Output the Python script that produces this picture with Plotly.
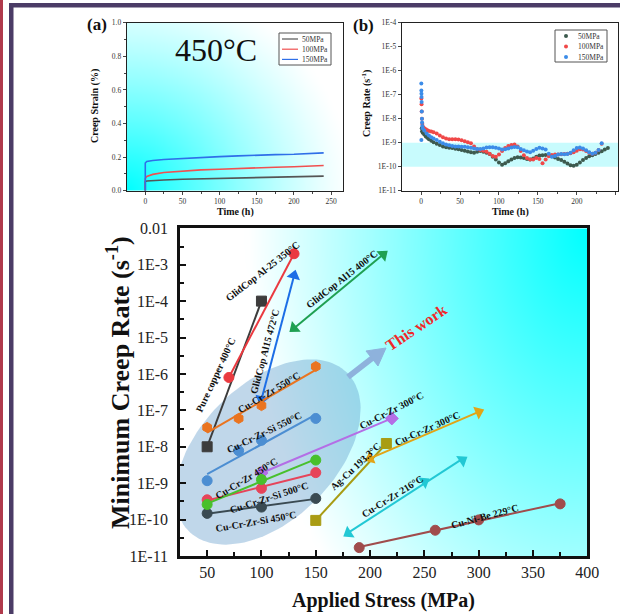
import numpy as np
import plotly.graph_objects as go

FIG_W, FIG_H = 620, 614
SERIF = "Liberation Serif, Times New Roman, serif"


def fx(p):
    return p / FIG_W


def fy(p):
    return 1 - p / FIG_H


# ---------------- (a) creep strain at 450 °C ----------------
time_a = [0, 0, 2, 10, 25, 50, 75, 100, 125, 150, 175, 200, 225, 240]
strain_50 = [0, 0.055, 0.058, 0.061, 0.064, 0.068, 0.071, 0.074, 0.077, 0.079, 0.081, 0.083, 0.085, 0.087]
strain_100 = [0, 0.072, 0.085, 0.097, 0.108, 0.118, 0.124, 0.128, 0.133, 0.137, 0.140, 0.143, 0.147, 0.150]
strain_150 = [0, 0.165, 0.174, 0.180, 0.186, 0.193, 0.198, 0.203, 0.207, 0.212, 0.215, 0.217, 0.221, 0.225]

# ---------------- (b) creep rate vs time ----------------
rate_t_50 = [0.8, 1.2, 2, 4, 6, 8, 10, 13, 16, 20, 24, 28, 32, 36, 40, 44, 48, 52, 56, 60, 64, 68, 72,
             76, 80, 84, 88, 92, 96, 100, 104, 108, 112, 116, 120, 124, 128, 132, 136, 140, 144, 148,
             152, 156, 160, 164, 168, 172, 176, 180, 184, 188, 192, 196, 200, 204, 208, 212, 216, 220,
             224, 228, 232, 236, 240]
rate_50 = [4e-9, 3e-9, 2.6e-9, 2.2e-9, 1.8e-9, 1.6e-9, 1.4e-9, 1.2e-9, 1.05e-9, 9e-10, 8e-10, 7e-10,
           6.5e-10, 6.2e-10, 6e-10, 5.6e-10, 5.3e-10, 5e-10, 4.6e-10, 4.3e-10, 4e-10, 3.8e-10, 4.2e-10,
           4.5e-10, 4.2e-10, 3.8e-10, 3.4e-10, 2.6e-10, 2e-10, 1.5e-10, 1.2e-10, 1.4e-10, 1.7e-10, 2e-10,
           2.3e-10, 2.5e-10, 2.4e-10, 2.3e-10, 2.1e-10, 2e-10, 2.2e-10, 2.6e-10, 2.9e-10, 3e-10, 3.1e-10,
           3e-10, 2.7e-10, 2.4e-10, 2.1e-10, 1.9e-10, 1.6e-10, 1.35e-10, 1.15e-10, 1.1e-10, 1.2e-10,
           1.5e-10, 1.9e-10, 2.3e-10, 2.7e-10, 3e-10, 3.4e-10, 3.8e-10, 4.4e-10, 5.2e-10, 6e-10]

rate_t_100 = [0.3, 0.5, 0.7, 1, 1.5, 2.5, 4, 6, 8, 10, 13, 16, 20, 24, 28, 32, 36, 40, 44, 48, 52, 56,
              60, 64, 68, 72, 76, 80, 84, 88, 92, 96, 100, 104, 108, 112, 116, 120, 124, 128, 132, 136,
              140, 144, 148, 152, 156, 160, 164, 168, 172, 176, 180, 184, 188, 192, 196, 200, 204, 208,
              212, 216, 220, 224, 228, 232]
rate_100 = [7e-8, 4e-8, 2e-8, 1e-8, 6e-9, 4.5e-9, 4e-9, 3.6e-9, 3.3e-9, 3.1e-9, 2.9e-9, 2.7e-9, 2.4e-9,
            2e-9, 1.7e-9, 1.5e-9, 1.4e-9, 1.4e-9, 1.4e-9, 1.35e-9, 1.25e-9, 1.15e-9, 1.05e-9, 9.5e-10,
            7e-10, 5.5e-10, 5e-10, 4.6e-10, 4.2e-10, 3.5e-10, 2.8e-10, 2.6e-10, 3.2e-10, 4.5e-10, 6e-10,
            7.2e-10, 8e-10, 8.5e-10, 7e-10, 4.5e-10, 3e-10, 2.3e-10, 2e-10, 2e-10, 2.3e-10, 2.1e-10,
            1.4e-10, 2e-10, 2.7e-10, 3.1e-10, 3.2e-10, 3.2e-10, 3.3e-10, 3.4e-10, 3.5e-10, 3.6e-10,
            4e-10, 4.6e-10, 5.3e-10, 5.2e-10, 4.5e-10, 3.8e-10, 3.5e-10, 3.8e-10, 5e-10, 9e-10]

rate_t_150 = [0.2, 0.3, 0.4, 0.5, 0.6, 0.8, 1, 1.2, 1.5, 2, 0.3, 4, 7, 10, 13, 16, 20, 24, 28, 32, 36,
              40, 44, 48, 52, 56, 60, 64, 68, 72, 76, 80, 84, 88, 92, 96, 100, 104, 108, 112, 116, 120,
              124, 128, 132, 136, 140, 144, 148, 152, 156, 160, 164, 168, 172, 176, 180, 184, 188, 192,
              196, 200, 204, 208, 212, 216, 220, 224, 228, 232]
rate_150 = [2.9e-7, 1.5e-7, 1.1e-7, 8e-8, 5e-8, 2e-8, 1e-8, 7e-9, 5e-9, 4e-9, 1.3e-9, 3.2e-9, 2.4e-9,
            2e-9, 1.7e-9, 1.5e-9, 1.3e-9, 1.1e-9, 9.5e-10, 8.5e-10, 7.8e-10, 7.3e-10, 7e-10, 7e-10,
            6.8e-10, 6.7e-10, 6.5e-10, 6.2e-10, 5.8e-10, 5.5e-10, 5.5e-10, 5.8e-10, 6.3e-10, 6.5e-10,
            6.5e-10, 6.2e-10, 5.8e-10, 5.2e-10, 5.3e-10, 5.8e-10, 6.3e-10, 6.6e-10, 6.5e-10, 5.5e-10,
            4.8e-10, 4.3e-10, 4e-10, 4.6e-10, 5.5e-10, 6.2e-10, 5.8e-10, 5.2e-10, 3.5e-10, 2.6e-10,
            2.8e-10, 3.2e-10, 3.4e-10, 3.3e-10, 3.4e-10, 3.8e-10, 4.8e-10, 6e-10, 6.3e-10, 5.8e-10,
            4.8e-10, 4e-10, 3.5e-10, 3.8e-10, 5e-10, 9.5e-10]

# ---------------- (c) minimum creep rate vs applied stress ----------------
pure_cu_stress = [50, 100]
pure_cu_rate = [1.0e-8, 1.0e-4]
glid25_stress = [70, 130]
glid25_rate = [8.0e-7, 2.0e-3]
glid15_472_stress = [100, 130]
glid15_472_rate = [2.0e-7, 5.0e-4]
glid15_400_stress = [130, 212]
glid15_400_rate = [1.8e-5, 1.9e-3]
crzr550_stress = [50, 79, 100, 150]
crzr550_rate = [3.4e-8, 6.0e-8, 1.35e-7, 1.6e-6]
crzrsi550_stress = [50, 79, 100, 150]
crzrsi550_rate = [1.17e-9, 7.8e-9, 1.5e-8, 6.0e-8]
crzr450_stress = [50, 100, 150]
crzr450_rate = [2.6e-10, 1.26e-9, 4.3e-9]
crzr300_p_stress = [100, 220]
crzr300_p_rate = [1.9e-9, 6.0e-8]
crzrsi500_stress = [50, 100, 150]
crzrsi500_rate = [3.5e-10, 7.2e-10, 1.95e-9]
crzrsi450_stress = [50, 100, 150]
crzrsi450_rate = [1.48e-10, 2.2e-10, 3.8e-10]
agcu_stress = [150, 215]
agcu_rate = [9.5e-11, 1.23e-8]
crzr300_g_stress = [200, 300]
crzr300_g_rate = [4.8e-9, 9.1e-8]
crzr216_stress = [180, 250, 285]
crzr216_rate = [4.2e-11, 1.1e-9, 4.3e-9]
cunibe_stress = [190, 260, 300, 375]
cunibe_rate = [1.7e-11, 5.1e-11, 9.8e-11, 2.7e-10]

y_tick_vals_c = [10.0 ** -k for k in range(2, 12)]
y_tick_text_c = ["0.01"] + ["1E-%d" % k for k in range(3, 12)]
y_tick_vals_b = [10.0 ** -k for k in range(4, 12)]
y_tick_text_b = ["1E-%d" % k for k in range(4, 12)]

# panel geometry (pixels)
A_L, A_R, A_T, A_B = 126.7, 343.0, 22.7, 190.7
B_L, B_R = 401.7, 618.0
C_L, C_R, C_T, C_B = 180.0, 587.3, 228.3, 556.0
C_XR = [25, 400]
C_YR = [-11, -2]

fig = go.Figure()

# ---- background gradients ----
gu = np.linspace(0, 1, 48)
gv = np.linspace(0, 1, 48)
U, V = np.meshgrid(gu, gv)
cyan_scale = [[0, "#ffffff"], [1, "#00ffff"]]

d_a = np.sqrt((U * (A_R - A_L) / 225) ** 2 + (V * (A_B - A_T) / 215) ** 2)
z_a = np.clip(1 - d_a, 0, 1) ** 1.2
fig.add_trace(go.Heatmap(x=gu, y=gv, z=z_a, colorscale=cyan_scale, zmin=0, zmax=1, showscale=False,
                         zsmooth="best", hoverinfo="skip", xaxis="x", yaxis="y"))

d_c = np.sqrt(((1 - U) * (C_R - C_L) / 340) ** 2 + ((1 - V) * (C_B - C_T) / 520) ** 2)
z_c = np.clip(1 - d_c, 0, 1)
fig.add_trace(go.Heatmap(x=gu, y=gv, z=z_c, colorscale=cyan_scale, zmin=0, zmax=1, showscale=False,
                         zsmooth="best", hoverinfo="skip", xaxis="x4", yaxis="y4"))

# translucent ellipse grouping the Cu-Cr-Zr(-Si) results
t = np.linspace(0, 2 * np.pi, 120)
ecx, ecy, ea, eb, eang = 268, 452, 112, 68, np.radians(45)
ex = ecx + ea * np.cos(t) * np.cos(eang) - eb * np.sin(t) * np.sin(eang)
ey = ecy - (ea * np.cos(t) * np.sin(eang) + eb * np.sin(t) * np.cos(eang))
fig.add_trace(go.Scatter(x=(ex - C_L) / (C_R - C_L), y=(C_B - ey) / (C_B - C_T), mode="lines",
                         fill="toself", fillcolor="rgba(90,150,200,0.38)", line=dict(width=0),
                         hoverinfo="skip", xaxis="x4", yaxis="y4"))

# ---- (a) strain curves ----
for s, c in ((strain_50, "#555555"), (strain_100, "#f05050"), (strain_150, "#2f6fe8")):
    fig.add_trace(go.Scatter(x=time_a, y=s, mode="lines", line=dict(color=c, width=1.6),
                             xaxis="x2", yaxis="y2"))

# ---- (b) creep rate points ----
for tt, r, c in ((rate_t_50, rate_50, "#3d5a4e"), (rate_t_100, rate_100, "#f04848"),
                 (rate_t_150, rate_150, "#3c8ce8")):
    fig.add_trace(go.Scatter(x=tt, y=r, mode="markers", marker=dict(color=c, size=4),
                             xaxis="x3", yaxis="y3"))

# ---- (c) series: linear fit in log space + data markers ----
px_per_x = (C_R - C_L) / (C_XR[1] - C_XR[0])
px_per_dec = (C_B - C_T) / (C_YR[1] - C_YR[0])


def along_angle(xs, ys, reverse=False):
    dx = (xs[-1] - xs[0]) * px_per_x
    dy = (np.log10(ys[-1]) - np.log10(ys[0])) * px_per_dec
    phi = np.degrees(np.arctan2(dy, dx))
    a = 90 - phi
    return a + 180 if reverse else a


series_c = [
    (pure_cu_stress, pure_cu_rate, "#3c3c3c", "square", False),
    (glid25_stress, glid25_rate, "#ea3a40", "circle", False),
    (glid15_472_stress, glid15_472_rate, "#1c6ee6", "triangle-up", True),
    (glid15_400_stress, glid15_400_rate, "#1fa052", "triangle-up", True),
    (crzr550_stress, crzr550_rate, "#ea7420", "hexagon", False),
    (crzrsi550_stress, crzrsi550_rate, "#4c8ed2", "circle", False),
    (crzrsi450_stress, crzrsi450_rate, "#3a4a52", "circle", False),
    (crzrsi500_stress, crzrsi500_rate, "#e6445a", "circle", False),
    (crzr300_p_stress, crzr300_p_rate, "#b46ee6", "diamond", False),
    (crzr450_stress, crzr450_rate, "#48c02c", "circle", False),
    (agcu_stress, agcu_rate, "#a89c14", "square", False),
    (crzr300_g_stress, crzr300_g_rate, "#e2a416", "triangle-up", True),
    (crzr216_stress, crzr216_rate, "#22c8d4", "triangle-up", True),
    (cunibe_stress, cunibe_rate, "#a04c4c", "circle", False),
]

for xs, ys, col, sym, arrow in series_c:
    k, b = np.polyfit(xs, np.log10(ys), 1)
    fx_line = [min(xs), max(xs)]
    fy_line = [10 ** (k * v + b) for v in fx_line]
    fig.add_trace(go.Scatter(x=fx_line, y=fy_line, mode="lines", line=dict(color=col, width=2),
                             xaxis="x5", yaxis="y5"))
    if arrow:
        ang = [along_angle(xs, ys, reverse=True)] + [along_angle(xs, ys)] * (len(xs) - 1)
        mk = dict(color=col, size=12, symbol=sym, angle=ang)
    else:
        mk = dict(color=col, size=10, symbol=sym, line=dict(color=col, width=1))
    fig.add_trace(go.Scatter(x=xs, y=ys, mode="markers", marker=mk, xaxis="x5", yaxis="y5"))

# ---- axes ----
small_tick_font = dict(family=SERIF, size=7.5, color="#333333")
big_tick_font = dict(family=SERIF, size=16, color="#222222")
hidden = dict(visible=False, range=[0, 1], fixedrange=True)

layout_axes = dict(
    xaxis=dict(domain=[fx(A_L), fx(A_R)], anchor="y", **hidden),
    yaxis=dict(domain=[fy(A_B), fy(A_T)], anchor="x", **hidden),
    xaxis2=dict(overlaying="x", anchor="y2", range=[-25, 266], tickvals=[0, 50, 100, 150, 200, 250],
                ticks="outside", ticklen=3, tickwidth=1, showline=True, linecolor="#222", linewidth=1,
                mirror=True, showgrid=False, zeroline=False, tickfont=small_tick_font, automargin=False,
                minor=dict(tickvals=[25, 75, 125, 175, 225], ticks="outside", ticklen=2)),
    yaxis2=dict(overlaying="y", anchor="x2", range=[0, 1.0], tickvals=[0, 0.2, 0.4, 0.6, 0.8, 1.0],
                ticktext=["0.0", "0.2", "0.4", "0.6", "0.8", "1.0"], ticks="outside", ticklen=3,
                tickwidth=1, showline=True, linecolor="#222", linewidth=1, mirror=True, showgrid=False,
                zeroline=False, tickfont=small_tick_font, automargin=False,
                minor=dict(tickvals=[0.1, 0.3, 0.5, 0.7, 0.9], ticks="outside", ticklen=2)),
    xaxis3=dict(domain=[fx(B_L), fx(B_R)], anchor="y3", range=[-25, 253],
                tickvals=[0, 50, 100, 150, 200, 250], ticks="outside", ticklen=3, tickwidth=1,
                showline=True, linecolor="#222", linewidth=1, mirror=True, showgrid=False,
                zeroline=False, tickfont=small_tick_font, automargin=False,
                minor=dict(tickvals=[25, 75, 125, 175, 225], ticks="outside", ticklen=2)),
    yaxis3=dict(domain=[fy(A_B), fy(A_T)], anchor="x3", type="log", range=[-11, -4],
                tickvals=y_tick_vals_b, ticktext=y_tick_text_b, ticks="outside", ticklen=3,
                tickwidth=1, showline=True, linecolor="#222", linewidth=1, mirror=True,
                showgrid=False, zeroline=False, tickfont=small_tick_font, automargin=False),
    xaxis4=dict(domain=[fx(C_L), fx(C_R)], anchor="y4", **hidden),
    yaxis4=dict(domain=[fy(C_B), fy(C_T)], anchor="x4", **hidden),
    xaxis5=dict(overlaying="x4", anchor="y5", range=C_XR, tickvals=list(range(50, 401, 50)),
                ticks="inside", ticklen=6, tickwidth=2, tickcolor="#111", showline=True,
                linecolor="#111", linewidth=2.5, mirror=True, showgrid=False, zeroline=False,
                tickfont=big_tick_font, automargin=False,
                minor=dict(tickvals=list(range(75, 400, 50)), ticks="inside", ticklen=4,
                           tickwidth=2, tickcolor="#111")),
    yaxis5=dict(overlaying="y4", anchor="x5", type="log", range=C_YR, tickvals=y_tick_vals_c,
                ticktext=y_tick_text_c, ticks="inside", ticklen=6, tickwidth=2, tickcolor="#111",
                showline=True, linecolor="#111", linewidth=2.5, mirror=True, showgrid=False,
                zeroline=False, tickfont=big_tick_font, ticklabelstandoff=6, automargin=False,
                minor=dict(tickvals=[10 ** (-k + 0.5) for k in range(3, 12)], ticks="inside",
                           ticklen=4, tickwidth=2, tickcolor="#111")),
)

# ---- text ----
ann = []


def text(s, x, y, size, angle=0, color="#111111", bold=True, xanchor="center"):
    ann.append(dict(text=("<b>%s</b>" % s) if bold else s, x=fx(x), y=fy(y), xref="paper",
                    yref="paper", showarrow=False, textangle=angle, xanchor=xanchor,
                    yanchor="middle", font=dict(family=SERIF, size=size, color=color)))


text("(a)", 97, 24, 17)
text("(b)", 364, 25, 17)
text("450°C", 216, 50, 32, bold=False)
text("Creep Strain (%)", 95, 106, 10, angle=-90)
text("Time (h)", 235, 212, 10)
text("Creep Rate (s<sup>-1</sup>)", 367, 104, 10, angle=-90)
text("Time (h)", 510, 212, 10)
text("Minimum Creep Rate (s<sup>-1</sup>)", 118, 382, 26, angle=-90)
text("Applied Stress (MPa)", 383, 600, 20)

labels_c = [
    ("Pure copper 400°C", 215, 375, -65),
    ("GlidCop Al-25 350°C", 262, 271, -38),
    ("GlidCop Al15 472°C", 264, 352, -75),
    ("GlidCop Al15 400°C", 341, 279, -38),
    ("Cu-Cr-Zr 550°C", 269, 393, -31),
    ("Cu-Cr-Zr-Si 550°C", 264, 432, -26),
    ("Cu-Cr-Zr 450°C", 246, 478, -31),
    ("Cu-Cr-Zr-Si 500°C", 269, 497, -18),
    ("Cu-Cr-Zr-Si 450°C", 256, 521, -10),
    ("Cu-Cr-Zr 300°C", 391, 410, -27),
    ("Cu-Cr-Zr 300°C", 427, 428, -24),
    ("Ag-Cu 193.3°C", 355, 466, -43),
    ("Cu-Cr-Zr 216°C", 392, 496, -32),
    ("Cu-Ni-Be 229°C", 484, 516, -15),
]
for s, x, y, a in labels_c:
    text(s, x, y, 10, angle=a)
text("This work", 416, 327, 16, angle=-34, color="#f02828")

shapes = []

# light-blue arrow pointing towards "This work": shaft + head
arrow_col = "#8eb2dc"
shapes.append(dict(type="line", xref="paper", yref="paper", x0=fx(348), y0=fy(377), x1=fx(375),
                   y1=fy(356), line=dict(color=arrow_col, width=6)))
shapes.append(dict(type="path", xref="paper", yref="paper",
                   path="M %.5f %.5f L %.5f %.5f L %.5f %.5f Z" % (fx(386), fy(348), fx(366), fy(351),
                                                                   fx(378), fy(366)),
                   fillcolor=arrow_col, line=dict(color=arrow_col, width=1)))

# ---- legends (a) and (b) ----
shapes.append(dict(type="rect", xref="paper", yref="paper", x0=fx(279), x1=fx(331), y0=fy(65),
                   y1=fy(33), line=dict(color="#555", width=1), fillcolor="white"))
for i, (lbl, c) in enumerate((("50MPa", "#555555"), ("100MPa", "#f05050"), ("150MPa", "#2f6fe8"))):
    yy = 39 + 10.2 * i
    shapes.append(dict(type="line", xref="paper", yref="paper", x0=fx(282), x1=fx(298), y0=fy(yy),
                       y1=fy(yy), line=dict(color=c, width=1.2)))
    text(lbl, 300, yy, 7.5, bold=False, xanchor="left", color="#333")

shapes.append(dict(type="rect", xref="paper", yref="paper", x0=fx(555), x1=fx(607), y0=fy(62),
                   y1=fy(30), line=dict(color="#555", width=1), fillcolor="white"))
for i, (lbl, c) in enumerate((("50MPa", "#3d5a4e"), ("100MPa", "#f04848"), ("150MPa", "#3c8ce8"))):
    yy = 36 + 10.5 * i
    shapes.append(dict(type="circle", xref="paper", yref="paper", x0=fx(564), x1=fx(568),
                       y0=fy(yy + 2), y1=fy(yy - 2), fillcolor=c, line=dict(width=0)))
    text(lbl, 576, yy, 7.5, bold=False, xanchor="left", color="#333")

# cyan band 1E-10 .. 1E-9 in panel (b)
shapes.append(dict(type="rect", xref="x3 domain", yref="y3 domain", x0=0, x1=1, y0=1 / 7, y1=2 / 7,
                   fillcolor="#c8fbfd", line=dict(width=0), layer="below"))

# page frame
shapes.append(dict(type="rect", xref="paper", yref="paper", x0=0, x1=fx(3), y0=0, y1=1,
                   fillcolor="#b03a4c", line=dict(width=0)))
shapes.append(dict(type="rect", xref="paper", yref="paper", x0=fx(9), x1=fx(13.5), y0=0, y1=fy(3),
                   fillcolor="#4b3c66", line=dict(width=0)))
shapes.append(dict(type="rect", xref="paper", yref="paper", x0=fx(9), x1=1, y0=fy(7.5), y1=fy(3),
                   fillcolor="#4b3c66", line=dict(width=0)))

fig.update_layout(
    width=FIG_W, height=FIG_H, margin=dict(l=0, r=0, t=0, b=0), showlegend=False,
    paper_bgcolor="white", plot_bgcolor="rgba(0,0,0,0)", annotations=ann, shapes=shapes,
    **layout_axes,
)

fig.write_html("out.html")
